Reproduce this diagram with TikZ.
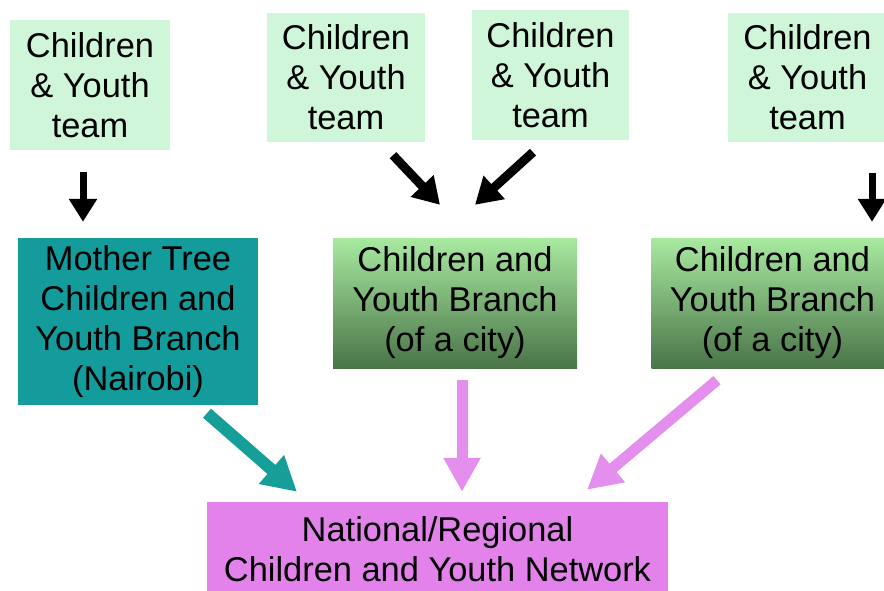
\documentclass[tikz,border=0pt]{standalone}
\usepackage{fontspec}
\setmainfont{Liberation Sans}
\usetikzlibrary{arrows.meta,calc}
\definecolor{teamgreen}{RGB}{208,246,218}
\definecolor{mothertl}{RGB}{20,155,155}
\definecolor{citytop}{RGB}{168,234,160}
\definecolor{citymid}{RGB}{140,198,133}
\definecolor{citybot}{RGB}{74,116,72}
\definecolor{netviolet}{RGB}{226,130,234}
\definecolor{pinkarr}{RGB}{228,142,238}
\definecolor{tealarr}{RGB}{22,158,152}
\tikzset{team/.style   = {fill=teamgreen, minimum width=160pt, minimum height=130pt, inner sep=0pt, align=center},
         mother/.style = {fill=mothertl, minimum width=240pt, minimum height=167pt, inner sep=0pt, align=center},
         city/.style   = {top color=citytop, middle color=citymid, bottom color=citybot,
                          minimum width=244pt, minimum height=130pt, inner sep=0pt, align=center},
         net/.style    = {fill=netviolet, minimum width=461pt, minimum height=94pt, inner sep=0pt, align=center},
         blk/.style    = {line width=7pt, -{Triangle[width=27pt,length=23pt]}},
         dblk/.style   = {line width=9pt, -{Triangle[width=30pt,length=26pt]}},
         pnk/.style    = {line width=11pt, pinkarr, -{Triangle[width=35pt,length=34pt]}},
         tea/.style    = {line width=12pt, tealarr, -{Triangle[width=36pt,length=34pt]}}}

\begin{document}
\begin{tikzpicture}[x=1pt, y=-1pt, font=\fontsize{34.4}{40}\selectfont]
    \useasboundingbox (0,0) rectangle (884,590);
    \clip (0,0) rectangle (884,590);
    % teams
    \node[team] (t1) at (90,85)     {Children\\\& Youth\\team};
    \node[team, minimum width=158pt, minimum height=129pt] (t2) at (346,77.5) {Children\\\& Youth\\team};
    \node[team, minimum width=157pt] (t3) at (550.5,75) {Children\\\& Youth\\team};
    \node[team, minimum width=159pt, minimum height=129pt] (t4) at (807.5,77.5) {Children\\\& Youth\\team};
    % branches
    \node[mother] (mt) at (138,321.5) {Mother Tree\\Children and\\Youth Branch\\(Nairobi)};
    \node[city] (c1) at (455,303)   {Children and\\Youth Branch\\(of a city)};
    \node[city, minimum width=242pt] (c2) at (772.5,303) {Children and\\Youth Branch\\(of a city)};
    % network
    \node[net] (nw) at (437.5,549) {National/Regional\\Children and Youth Network};
    % team -> branch
    \draw[blk]  ($(t1.south)+(-7,22)$)    -- ($(mt.north)+(-55,-16)$);
    \draw[dblk] ($(t2.south)+(47,13)$)    -- ($(c1.north)+(-15,-33)$);
    \draw[dblk] ($(t3.south)+(-17.5,12)$) -- ($(c1.north)+(20,-33)$);
    \draw[blk]  ($(t4.south)+(64.5,31)$)  -- ($(c2.north)+(99.5,-16)$);
    % branch -> network
    \draw[tea] ($(mt.south)+(69,8)$)     -- ($(nw.north)+(-140.5,-10)$);
    \draw[pnk] ($(c1.south)+(7,12)$)     -- ($(nw.north)+(24.5,-10)$);
    \draw[pnk] ($(c2.south)+(-55.5,12)$) -- ($(nw.north)+(149.5,-12)$);
\end{tikzpicture}
\end{document}
